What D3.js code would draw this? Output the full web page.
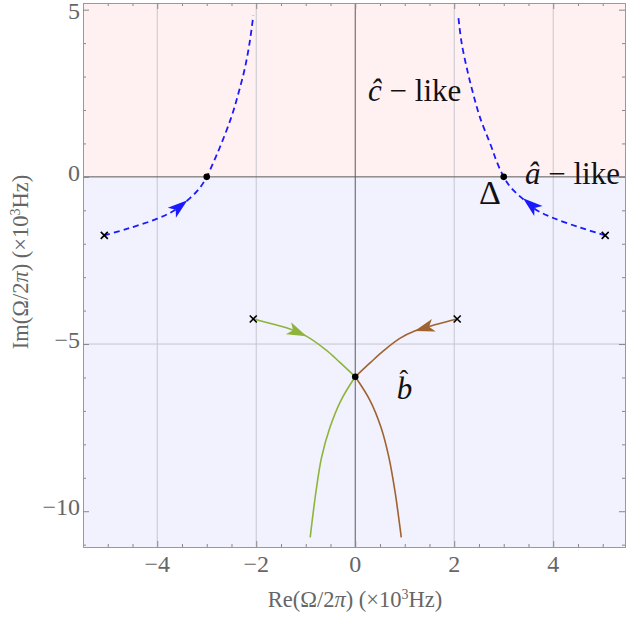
<!DOCTYPE html>
<html>
<head>
<meta charset="utf-8">
<script src="https://cdn.jsdelivr.net/npm/d3@7/dist/d3.min.js"></script>
<style>
  html, body { margin: 0; padding: 0; background: #fff; }
  svg { display: block; }
</style>
</head>
<body>
<svg id="chart"></svg>
<script>
// ===== Data =====
const xTicks = [-4, -2, 0, 2, 4];
const yTicks = [-10, -5, 0, 5];
const xGrid = [-4, -2, 2, 4];
const yGrid = [-5];

// blue dashed branches (a-like / c-like)
const blueLeft = [[-5.07,-1.75],[-4.6,-1.55],[-4.0,-1.25],[-3.65,-1.0],[-3.35,-0.65],[-3.15,-0.35],[-3.0,0],
  [-2.86,0.45],[-2.73,0.9],[-2.5,1.8],[-2.36,2.5],[-2.23,3.25],[-2.13,4.05],[-2.06,4.82]];
const blueRight = [[5.05,-1.75],[4.55,-1.52],[4.0,-1.23],[3.65,-0.98],[3.38,-0.65],[3.15,-0.33],[3.0,0],
  [2.86,0.45],[2.75,0.9],[2.52,1.78],[2.38,2.5],[2.27,3.15],[2.15,4.0],[2.08,4.82]];

// b-like branches
const greenUpper = [[-2.06,-4.25],[-1.65,-4.41],[-1.39,-4.51],[-0.98,-4.77],[-0.58,-5.19],[-0.31,-5.55],[0,-5.98]];
const greenLower = [[0,-5.98],[-0.29,-6.69],[-0.51,-7.49],[-0.68,-8.39],[-0.79,-9.38],[-0.91,-10.78]];
const brownUpper = [[2.06,-4.25],[1.65,-4.41],[1.2,-4.61],[0.9,-4.83],[0.58,-5.19],[0.31,-5.55],[0,-5.98]];
const brownLower = [[0,-5.98],[0.3,-6.69],[0.52,-7.49],[0.68,-8.39],[0.8,-9.38],[0.93,-10.78]];

// start points (x) and junction points (dots)
const startPoints = [[-5.07,-1.75],[5.05,-1.75],[-2.06,-4.25],[2.06,-4.25]];
const dotPoints = [[-3,0],[3,0],[0,-5.98]];

// arrows: tip and a point just behind it on the curve
const arrows = [
  {tip: [-3.39,-0.7], from: [-3.6,-0.95], color: "#1a1aff"},
  {tip: [3.39,-0.64], from: [3.6,-0.9], color: "#1a1aff"},
  {tip: [-0.98,-4.77], from: [-1.3,-4.56], color: "#8fb43a"},
  {tip: [1.2,-4.61], from: [1.6,-4.43], color: "#a0622f"}
];

// annotations
const labels = [
  {x: 0.26, y: 2.27, size: 31, parts: [["ĉ", "italic"], [" − like", "normal"]]},
  {x: 3.43, y: -0.21, size: 31, parts: [["â", "italic"], [" − like", "normal"]]},
  {x: 2.5, y: -0.8, size: 34, parts: [["Δ", "normal"]]},
  {x: 0.84, y: -6.63, size: 31, parts: [["b", "italic"]], hat: true}
];

// ===== Setup =====
const FONT = "'Liberation Serif', 'DejaVu Serif', serif";
const W = 626, H = 618;
const svg = d3.select("#chart").attr("width", W).attr("height", H)
  .attr("font-family", FONT);
const pLeft = 83, pRight = 625, pTop = 3, pBottom = 547;

const x = d3.scaleLinear().domain([-5.5, 5.45]).range([pLeft, pRight]);
const y = d3.scaleLinear().domain([-11.07, 5.2]).range([pBottom, pTop]);

svg.append("defs").append("clipPath").attr("id", "clip")
  .append("rect").attr("x", pLeft).attr("y", pTop).attr("width", pRight - pLeft).attr("height", pBottom - pTop);

const g = svg.append("g");

// Backgrounds
g.append("rect").attr("x", pLeft).attr("y", pTop).attr("width", pRight - pLeft).attr("height", y(0) - pTop)
  .attr("fill", "#fff1f1");
g.append("rect").attr("x", pLeft).attr("y", y(0)).attr("width", pRight - pLeft).attr("height", pBottom - y(0))
  .attr("fill", "#f1f2fd");

// Grid
g.selectAll(".gx").data(xGrid).enter().append("line")
  .attr("x1", d => x(d)).attr("x2", d => x(d)).attr("y1", pTop).attr("y2", pBottom)
  .attr("stroke", "#c6c6d0").attr("stroke-width", 1);
g.selectAll(".gy").data(yGrid).enter().append("line")
  .attr("x1", pLeft).attr("x2", pRight).attr("y1", d => y(d)).attr("y2", d => y(d))
  .attr("stroke", "#c6c6d0").attr("stroke-width", 1);

// Zero axes
g.append("line").attr("x1", x(0)).attr("x2", x(0)).attr("y1", pTop).attr("y2", pBottom)
  .attr("stroke", "#5a5a5a").attr("stroke-width", 1);
g.append("line").attr("x1", pLeft).attr("x2", pRight).attr("y1", y(0)).attr("y2", y(0))
  .attr("stroke", "#5a5a5a").attr("stroke-width", 1);

// Frame axes (ticks inward)
const xMinor = d3.range(-5.5, 5.5, 0.5).filter(v => xTicks.indexOf(v) < 0);
const yMinor = d3.range(-11, 6, 1).filter(v => yTicks.indexOf(v) < 0);

function frameAxis(axisFn, scale, major, minor, transform) {
  const a = g.append("g").attr("transform", transform);
  a.call(axisFn(scale).tickValues(minor).tickSize(3).tickFormat(""));
  a.select(".domain").remove();
  a.selectAll("text").remove();
  const b = g.append("g").attr("transform", transform);
  b.call(axisFn(scale).tickValues(major).tickSize(6).tickFormat(""));
  b.selectAll("text").remove();
  b.selectAll("line").attr("stroke", "#888");
  a.selectAll("line").attr("stroke", "#888");
  b.select(".domain").attr("stroke", "#999");
}

frameAxis(d3.axisTop, x, xTicks, xMinor, `translate(0,${pBottom})`);
frameAxis(d3.axisBottom, x, xTicks, xMinor, `translate(0,${pTop})`);
frameAxis(d3.axisRight, y, yTicks, yMinor, `translate(${pLeft},0)`);
frameAxis(d3.axisLeft, y, yTicks, yMinor, `translate(${pRight},0)`);

// tick labels
const fmt = d => d < 0 ? "\u2212" + Math.abs(d) : d;
g.selectAll(".xl").data(xTicks).enter().append("text")
  .attr("x", d => x(d)).attr("y", 572).attr("text-anchor", "middle")
  .attr("font-size", 24).attr("fill", "#666").text(fmt);
g.selectAll(".yl").data(yTicks).enter().append("text")
  .attr("x", pLeft - 3).attr("y", d => Math.max(y(d) + 4, 19)).attr("text-anchor", "end")
  .attr("font-size", 24).attr("fill", "#666").text(fmt);

// axis titles
const titleHtml = p => p + '(Ω/2<tspan font-style="italic">π</tspan>) (×10<tspan dy="-8" font-size="14">3</tspan><tspan dy="8">Hz)</tspan>';
svg.append("text").attr("x", 355).attr("y", 607).attr("text-anchor", "middle")
  .attr("font-size", 22.5).attr("fill", "#666").html(titleHtml("Re"));
svg.append("text").attr("transform", "translate(28,262) rotate(-90)").attr("text-anchor", "middle")
  .attr("font-size", 22.5).attr("fill", "#666").html(titleHtml("Im"));

// ===== Curves =====
const line = d3.line().x(d => x(d[0])).y(d => y(d[1])).curve(d3.curveCatmullRom.alpha(0.5));
const plot = svg.append("g").attr("clip-path", "url(#clip)");

[blueLeft, blueRight].forEach(c => {
  plot.append("path").attr("d", line(c)).attr("fill", "none")
    .attr("stroke", "#1a1aff").attr("stroke-width", 1.8).attr("stroke-dasharray", "6,4");
});
[[greenUpper, "#8fb43a"], [greenLower, "#8fb43a"], [brownUpper, "#a0622f"], [brownLower, "#a0622f"]].forEach(([c, col]) => {
  plot.append("path").attr("d", line(c)).attr("fill", "none")
    .attr("stroke", col).attr("stroke-width", 1.6);
});

// arrowheads
arrows.forEach(a => {
  const tx = x(a.tip[0]), ty = y(a.tip[1]);
  const ang = Math.atan2(ty - y(a.from[1]), tx - x(a.from[0])) * 180 / Math.PI;
  plot.append("path")
    .attr("d", "M0,0 L-20,-6.5 L-15,0 L-20,6.5 Z")
    .attr("transform", `translate(${tx},${ty}) rotate(${ang})`)
    .attr("fill", a.color);
});

// start markers
plot.selectAll(".cross").data(startPoints).enter().append("path")
  .attr("d", d => {
    const px = x(d[0]), py = y(d[1]), s = 3.5;
    return `M${px - s},${py - s}L${px + s},${py + s}M${px - s},${py + s}L${px + s},${py - s}`;
  })
  .attr("stroke", "#000").attr("stroke-width", 1.6);

// junction dots
plot.selectAll(".dot").data(dotPoints).enter().append("circle")
  .attr("cx", d => x(d[0])).attr("cy", d => y(d[1])).attr("r", 3.3).attr("fill", "#000");

// ===== Labels =====
labels.forEach(l => {
  const t = svg.append("text").attr("x", x(l.x)).attr("y", y(l.y))
    .attr("font-size", l.size).attr("fill", "#111");
  l.parts.forEach(p => t.append("tspan").attr("font-style", p[1]).text(p[0]));
  if (l.hat) {
    svg.append("text").attr("x", x(l.x) + 7).attr("y", y(l.y) - 11)
      .attr("text-anchor", "middle").attr("font-size", 26).attr("fill", "#111").text("ˆ");
  }
});
</script>
</body>
</html>
